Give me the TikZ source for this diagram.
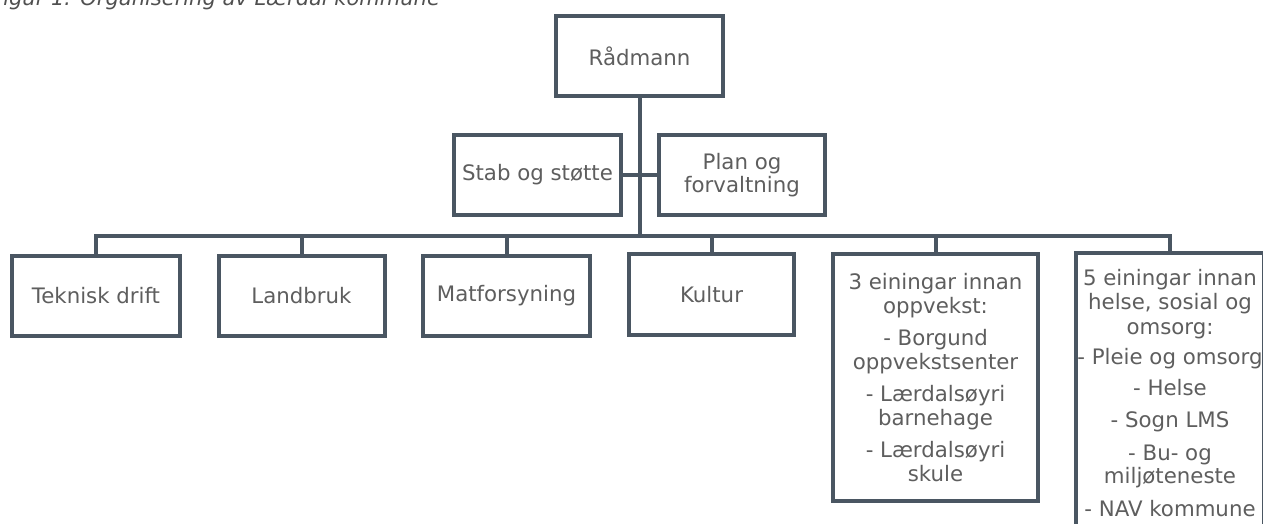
\documentclass[tikz,border=0pt]{standalone}
\usepackage{fontspec}
\setmainfont{DejaVu Sans}
\definecolor{linec}{HTML}{4A5662}
\definecolor{txt}{HTML}{5E5E5E}
\definecolor{capc}{HTML}{505050}
\begin{document}
\begin{tikzpicture}[x=1pt,y=-1pt,
  box/.style={draw=linec, line width=4pt, fill=white, text=txt, align=center,
    inner sep=0pt, font=\fontsize{21.3}{23.5}\selectfont},
  conn/.style={draw=linec, line width=4pt, line join=miter},
  captext/.style={anchor=base west, inner sep=0pt, text=capc,
    font=\fontsize{21}{24}\selectfont\itshape}]
\useasboundingbox (0,0) rectangle (1263,524);
\clip (0,0) rectangle (1263,524);
\fill[white] (0,0) rectangle (1263,524);

\node[captext] (cap) at (-9,5.5) {Figur 1: Organisering av Lærdal kommune};

% top level
\node[box, minimum width=167pt, minimum height=80pt] (rad) at (639.5,56) {Rådmann};
\node[box, minimum width=167pt, minimum height=80pt] (stab) at (537.5,175) {Stab og støtte};
\node[box, minimum width=166pt, minimum height=80pt] (plan) at (742,175) {Plan og\\forvaltning};

% second level
\node[box, minimum width=168pt, minimum height=80pt] (tek) at (96,296) {Teknisk drift};
\node[box, minimum width=166pt, minimum height=80pt] (land) at (301.5,296) {Landbruk};
\node[box, minimum width=167pt, minimum height=80pt] (mat) at (506.5,296) {Matforsyning};
\node[box, minimum width=165pt, minimum height=81pt] (kul) at (711.5,294.5) {Kultur};
\node[box, minimum width=205pt, minimum height=247pt] (opp) at (935.5,377.5)
  {3 einingar innan\\oppvekst:\\[9pt]- Borgund\\oppvekstsenter\\[9pt]- Lærdalsøyri\\barnehage\\[9pt]- Lærdalsøyri\\skule};
\node[box, minimum width=188pt, minimum height=280pt] (hel) at (1170,393)
  {5 einingar innan\\[1pt]helse, sosial og\\[1pt]omsorg:\\[7pt]\makebox[0pt]{- Pleie og omsorg}\\[7pt]- Helse\\[9pt]- Sogn LMS\\[9pt]- Bu- og\\miljøteneste\\[9pt]- NAV kommune};

\coordinate (bus) at (640,236);

% connectors
\draw[conn] (rad.south) -- (rad.south |- bus);
\draw[conn] (stab.east) -- (plan.west);
\draw[conn] (tek.north) -- (tek.north |- bus) -- (hel.north |- bus) -- (hel.north);
\draw[conn] (land.north) -- (land.north |- bus);
\draw[conn] (mat.north) -- (mat.north |- bus);
\draw[conn] (kul.north) -- (kul.north |- bus);
\draw[conn] (opp.north) -- (opp.north |- bus);
\end{tikzpicture}
\end{document}
